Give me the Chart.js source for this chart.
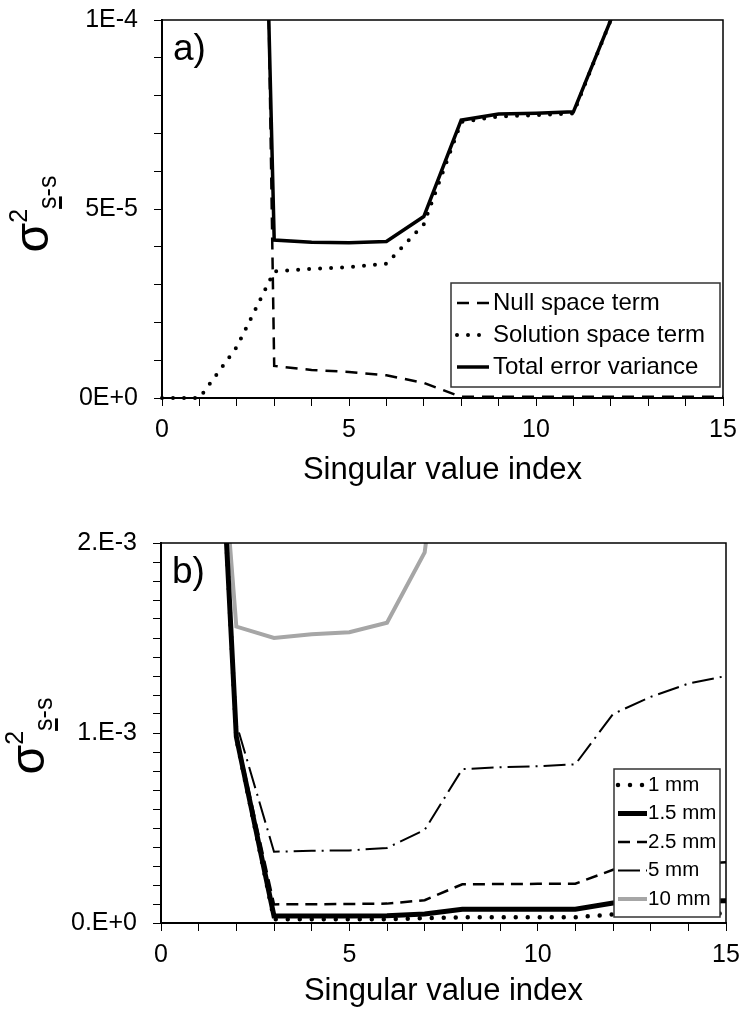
<!DOCTYPE html>
<html>
<head>
<meta charset="utf-8">
<script src="https://cdn.jsdelivr.net/npm/chart.js@4.4.0/dist/chart.umd.min.js"></script>
<style>
  html, body { margin: 0; padding: 0; background: #fff; }
  #wrap { position: relative; width: 740px; height: 1013px; }
  canvas { position: absolute; left: 0; }
  #chart-a { top: 0; }
  #chart-b { top: 500px; }
</style>
</head>
<body>
<div id="wrap">
  <canvas id="chart-a" width="740" height="500"></canvas>
  <canvas id="chart-b" width="740" height="513"></canvas>
</div>
<script>
// singular value index (x) shared by both panels
const svIndex = [0, 1, 2, 3, 4, 5, 6, 7, 8, 9, 10, 11, 12, 13, 14, 15];

// panel a) error variance terms
const nullSpace = [3.0e-3, 1.6e-3, 6.4e-4, 8.5e-6, 7.4e-6, 6.9e-6, 6.0e-6, 4.0e-6, 3e-7, 3e-7, 3e-7, 3e-7, 3e-7, 3e-7, 3e-7, 3e-7];
const solutionSpace = [0, 0, 1.35e-5, 3.35e-5, 3.42e-5, 3.46e-5, 3.55e-5, 4.6e-5, 7.3e-5, 7.45e-5, 7.48e-5, 7.53e-5, 1.0e-4, 1.3e-4, 1.6e-4, 1.9e-4];
const totalError = [3.0e-3, 1.6e-3, 4.45e-4, 4.18e-5, 4.12e-5, 4.11e-5, 4.14e-5, 4.8e-5, 7.35e-5, 7.51e-5, 7.53e-5, 7.57e-5, 1.0e-4, 1.3e-4, 1.6e-4, 1.9e-4];

// panel b) total error variance for different noise levels
const mm1 = [8e-3, 4.9e-3, 0.97e-3, 0.02e-3, 0.02e-3, 0.02e-3, 0.02e-3, 0.025e-3, 0.03e-3, 0.03e-3, 0.03e-3, 0.03e-3, 0.045e-3, 0.05e-3, 0.05e-3, 0.05e-3];
const mm15 = [8e-3, 4.9e-3, 0.98e-3, 0.037e-3, 0.037e-3, 0.037e-3, 0.038e-3, 0.047e-3, 0.072e-3, 0.072e-3, 0.072e-3, 0.073e-3, 0.105e-3, 0.11e-3, 0.115e-3, 0.117e-3];
const mm25 = [8e-3, 4.9e-3, 0.99e-3, 0.098e-3, 0.099e-3, 0.1e-3, 0.102e-3, 0.12e-3, 0.204e-3, 0.205e-3, 0.206e-3, 0.207e-3, 0.28e-3, 0.3e-3, 0.31e-3, 0.32e-3];
const mm5 = [8e-3, 4.85e-3, 1.05e-3, 0.375e-3, 0.38e-3, 0.382e-3, 0.395e-3, 0.49e-3, 0.81e-3, 0.82e-3, 0.825e-3, 0.835e-3, 1.1e-3, 1.19e-3, 1.26e-3, 1.3e-3];
const mm10 = [8e-3, 4.1e-3, 1.56e-3, 1.5e-3, 1.52e-3, 1.53e-3, 1.58e-3, 1.95e-3, 3.5e-3, 3.8e-3, 4.0e-3, 4.2e-3, 4.6e-3, 5.0e-3, 5.5e-3, 6.0e-3];

// tick labels
const xTickLabels = [0, 5, 10, 15];
const yTicksA = [0, 5e-5, 1e-4];
const yLabelsA = ["0E+0", "5E-5", "1E-4"];
const yTicksB = [0, 1e-3, 2e-3];
const yLabelsB = ["0.E+0", "1.E-3", "2.E-3"];

const FONT = '"Liberation Sans", Arial, sans-serif';
Chart.defaults.font.family = FONT;
Chart.defaults.color = "#000";

function toPoints(values) {
  return svIndex.map((x, i) => ({ x: x, y: values[i] }));
}

function labelFor(value, ticks, labels, step) {
  const i = ticks.findIndex((t) => Math.abs(t - value) < step / 10);
  return i >= 0 ? labels[i] : "";
}

// frame around the plot area
const frame = {
  id: "frame",
  afterDatasetsDraw(chart) {
    const a = chart.chartArea;
    const ctx = chart.ctx;
    ctx.save();
    ctx.strokeStyle = "#000";
    ctx.lineWidth = 1.5;
    ctx.strokeRect(a.left, a.top, a.right - a.left, a.bottom - a.top);
    ctx.restore();
  },
};

// boxed legend inside the plot (x/y in canvas pixels)
const boxLegend = {
  id: "boxLegend",
  afterDraw(chart, args, o) {
    const ctx = chart.ctx;
    ctx.save();
    ctx.fillStyle = "#fff";
    ctx.fillRect(o.x, o.y, o.w, o.h);
    ctx.strokeStyle = "#333";
    ctx.lineWidth = 1.5;
    ctx.strokeRect(o.x, o.y, o.w, o.h);
    chart.data.datasets.forEach((ds, i) => {
      const y = o.y + o.first + i * o.gap;
      ctx.beginPath();
      ctx.setLineDash(ds.borderDash || []);
      ctx.lineCap = ds.borderCapStyle || "butt";
      ctx.lineWidth = ds.borderWidth;
      ctx.strokeStyle = ds.borderColor;
      ctx.moveTo(o.x + o.sym0, y);
      ctx.lineTo(o.x + o.sym1, y);
      ctx.stroke();
      ctx.setLineDash([]);
      ctx.fillStyle = "#000";
      ctx.font = o.fontSize + "px " + FONT;
      ctx.textBaseline = "middle";
      ctx.textAlign = "left";
      ctx.fillText(ds.label, o.x + o.textX, y);
    });
    ctx.restore();
  },
};

// rotated y title (sigma squared, subscript s-s) and panel letter
const extraText = {
  id: "extraText",
  afterDraw(chart, args, o) {
    const ctx = chart.ctx;
    const a = chart.chartArea;
    ctx.save();
    ctx.fillStyle = "#000";
    ctx.textAlign = "left";
    ctx.textBaseline = "alphabetic";
    ctx.font = o.panelSize + "px " + FONT;
    ctx.fillText(o.panel, o.panelX, a.top + o.panelDy);

    ctx.translate(o.titleX, (a.top + a.bottom) / 2 + o.titleDy);
    ctx.rotate(-Math.PI / 2);
    ctx.font = o.sigmaSize + "px " + FONT;
    const sigW = ctx.measureText("σ").width;
    ctx.font = o.smallSize + "px " + FONT;
    const supW = ctx.measureText("2").width;
    const subW = ctx.measureText("s-s").width;
    const sW = ctx.measureText("s").width;
    let x = -(sigW + supW + subW) / 2;
    ctx.font = o.sigmaSize + "px " + FONT;
    ctx.fillText("σ", x, 0);
    x += sigW;
    ctx.font = o.smallSize + "px " + FONT;
    ctx.fillText("2", x, -o.supRise);
    x += supW;
    ctx.fillText("s-s", x, o.subDrop);
    ctx.fillRect(x, o.subDrop + 3, sW, 3);
    ctx.restore();
  },
};

function axes(yMax, yStep, yTicks, yLabels, yWidth, xHeight) {
  return {
    x: {
      type: "linear",
      min: 0,
      max: 15,
      afterFit: (scale) => {
        scale.height = xHeight;
        scale.paddingLeft = 0;
        scale.paddingRight = 0;
      },
      ticks: {
        stepSize: 1,
        autoSkip: false,
        maxRotation: 0,
        maxTicksLimit: 30,
        padding: 9,
        font: { size: 25 },
        callback: (v) => (xTickLabels.includes(v) ? String(v) : ""),
      },
      grid: { drawOnChartArea: false, tickLength: 8, tickColor: "#000", tickWidth: 1 },
      border: { color: "#000", width: 2 },
      title: { display: true, text: "Singular value index", font: { size: 31 }, padding: 0 },
    },
    y: {
      min: 0,
      max: yMax,
      afterFit: (scale) => {
        scale.width = yWidth;
        scale.paddingTop = 0;
        scale.paddingBottom = 0;
      },
      ticks: {
        stepSize: yStep,
        autoSkip: false,
        maxTicksLimit: 30,
        padding: 16,
        font: { size: 25 },
        callback: (v) => labelFor(v, yTicks, yLabels, yStep),
      },
      grid: { drawOnChartArea: false, tickLength: 8, tickColor: "#000", tickWidth: 1 },
      border: { color: "#000", width: 2 },
    },
  };
}

const clipBox = { left: 4, top: 0, right: 4, bottom: 4 };

function line(label, values, color, width, dash, cap) {
  return {
    label: label,
    data: toPoints(values),
    borderColor: color,
    borderWidth: width,
    borderDash: dash,
    borderCapStyle: cap || "butt",
    pointRadius: 0,
    tension: 0,
    fill: false,
    clip: clipBox,
  };
}

new Chart(document.getElementById("chart-a"), {
  type: "line",
  data: {
    datasets: [
      line("Null space term", nullSpace, "#000", 2.5, [12, 8]),
      line("Solution space term", solutionSpace, "#000", 4, [0, 11], "round"),
      line("Total error variance", totalError, "#000", 3.5, []),
    ],
  },
  options: {
    responsive: false,
    animation: false,
    layout: { padding: { top: 20, right: 17, bottom: 11, left: 0 } },
    scales: axes(1e-4, 1e-5, yTicksA, yLabelsA, 162, 91),
    plugins: {
      legend: { display: false },
      tooltip: { enabled: false },
      boxLegend: { x: 451, y: 283, w: 269, h: 104, first: 20, gap: 32, sym0: 6, sym1: 38, textX: 42, fontSize: 24 },
      extraText: { panel: "a)", panelX: 173, panelDy: 40, panelSize: 37, titleX: 48, titleDy: 5, sigmaSize: 48, smallSize: 25, supRise: 21, subDrop: 8 },
    },
  },
  plugins: [frame, boxLegend, extraText],
});

new Chart(document.getElementById("chart-b"), {
  type: "line",
  data: {
    datasets: [
      line("1 mm", mm1, "#000", 4.5, [0, 12], "round"),
      line("1.5 mm", mm15, "#000", 5, []),
      line("2.5 mm", mm25, "#000", 2.5, [12, 7]),
      line("5 mm", mm5, "#000", 2, [22, 6, 2, 6]),
      line("10 mm", mm10, "#a6a6a6", 4, []),
    ],
  },
  options: {
    responsive: false,
    animation: false,
    layout: { padding: { top: 43, right: 14, bottom: 3, left: 0 } },
    scales: axes(2e-3, 1e-4, yTicksB, yLabelsB, 161, 87),
    plugins: {
      legend: { display: false },
      tooltip: { enabled: false },
      boxLegend: { x: 614, y: 269, w: 106, h: 148, first: 16, gap: 28.5, sym0: 4, sym1: 33, textX: 34, fontSize: 20.5 },
      extraText: { panel: "b)", panelX: 172, panelDy: 40, panelSize: 37, titleX: 44, titleDy: 3, sigmaSize: 48, smallSize: 25, supRise: 21, subDrop: 8 },
    },
  },
  plugins: [frame, boxLegend, extraText],
});
</script>
</body>
</html>
